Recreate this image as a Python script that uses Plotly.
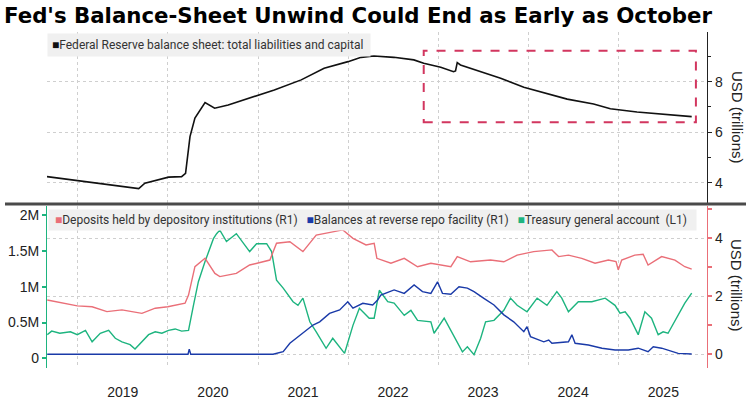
import plotly.graph_objects as go

# ---------------- data ----------------
fed_dates = ["2018-08-29", "2019-03-01", "2019-09-05", "2019-09-30", "2020-01-04", "2020-02-26",
             "2020-03-13", "2020-03-31", "2020-04-20", "2020-05-31", "2020-07-09", "2020-09-02",
             "2020-12-18", "2021-03-08", "2021-06-25", "2021-09-26", "2022-01-01", "2022-02-23",
             "2022-04-16", "2022-07-06", "2022-09-25", "2022-11-04", "2023-01-12", "2023-03-05",
             "2023-03-13", "2023-03-20", "2023-04-02", "2023-06-09", "2023-09-12", "2023-12-15",
             "2024-02-20", "2024-06-08", "2024-09-23", "2024-11-30", "2025-03-18", "2025-06-20",
             "2025-09-09", "2025-10-26"]
fed_values = [4.25, 4.03, 3.78, 3.99, 4.23, 4.25, 4.38, 5.83, 6.56, 7.17, 6.95, 7.08,
              7.41, 7.67, 8.07, 8.53, 8.79, 8.96, 9.01, 8.96, 8.86, 8.73, 8.57, 8.39,
              8.42, 8.75, 8.66, 8.43, 8.13, 7.78, 7.61, 7.31, 7.12, 6.93, 6.80, 6.72,
              6.65, 6.62]

dep_dates = ["2018-08-30", "2018-10-20", "2018-12-30", "2019-02-28", "2019-04-29", "2019-06-29",
             "2019-09-18", "2019-11-11", "2020-01-01", "2020-03-11", "2020-03-25", "2020-04-20",
             "2020-05-31", "2020-07-10", "2020-07-30", "2020-10-05", "2020-11-28", "2021-02-18",
             "2021-03-17", "2021-05-10", "2021-07-02", "2021-08-25", "2021-10-31", "2021-12-11",
             "2022-01-21", "2022-03-15", "2022-04-17", "2022-04-28", "2022-06-24", "2022-08-17",
             "2022-10-10", "2022-12-03", "2023-02-22", "2023-03-20", "2023-05-13", "2023-08-02",
             "2023-09-25", "2023-11-18", "2024-01-24", "2024-04-07", "2024-05-04", "2024-06-13",
             "2024-08-06", "2024-09-29", "2024-11-22", "2024-12-23", "2025-01-01", "2025-01-15",
             "2025-03-09", "2025-04-12", "2025-05-02", "2025-06-26", "2025-08-19", "2025-09-28",
             "2025-10-26"]
dep_values = [1.87, 1.79, 1.67, 1.64, 1.47, 1.53, 1.41, 1.59, 1.64, 1.76, 2.04, 3.02,
              3.31, 2.79, 2.68, 2.79, 3.08, 3.25, 3.83, 3.88, 3.54, 4.11, 4.23, 4.29,
              4.00, 3.77, 3.83, 3.31, 3.14, 3.31, 3.02, 3.14, 3.02, 3.37, 3.19, 3.25,
              3.19, 3.42, 3.54, 3.60, 3.37, 3.42, 3.31, 3.14, 3.25, 3.20, 2.91, 3.25,
              3.42, 3.45, 3.08, 3.37, 3.25, 3.02, 2.94]

rrp_dates = ["2018-08-30", "2020-03-23", "2020-03-28", "2020-04-03", "2021-03-03", "2021-04-13",
             "2021-05-10", "2021-06-05", "2021-07-02", "2021-08-12", "2021-09-08", "2021-10-18",
             "2021-11-28", "2021-12-31", "2022-01-21", "2022-03-02", "2022-04-11", "2022-05-01",
             "2022-05-14", "2022-07-07", "2022-08-17", "2022-09-26", "2022-10-30", "2022-12-03",
             "2022-12-30", "2023-01-19", "2023-02-22", "2023-03-27", "2023-04-30", "2023-05-27",
             "2023-07-06", "2023-08-16", "2023-09-25", "2023-11-04", "2023-12-15", "2023-12-28",
             "2024-01-11", "2024-03-05", "2024-03-25", "2024-04-07", "2024-06-13", "2024-06-27",
             "2024-07-10", "2024-09-02", "2024-10-27", "2024-12-19", "2025-02-11", "2025-03-23",
             "2025-05-02", "2025-05-23", "2025-06-26", "2025-08-06", "2025-09-01", "2025-10-26"]
rrp_values = [0.0, 0.0, 0.18, 0.0, 0.0, 0.09, 0.38, 0.55, 0.72, 1.01, 1.12, 1.41,
              1.53, 1.81, 1.59, 1.76, 1.70, 1.87, 2.04, 2.22, 2.10, 2.39, 2.16, 2.10,
              2.50, 2.10, 2.07, 2.33, 2.28, 2.16, 1.93, 1.70, 1.36, 1.12, 0.78, 0.95,
              0.61, 0.43, 0.49, 0.38, 0.43, 0.67, 0.38, 0.32, 0.21, 0.15, 0.15, 0.21,
              0.09, 0.26, 0.21, 0.11, 0.03, 0.01]

tga_dates = ["2018-08-30", "2018-09-17", "2018-10-20", "2018-12-02", "2018-12-30", "2019-02-01",
             "2019-02-28", "2019-04-02", "2019-05-06", "2019-06-02", "2019-06-29", "2019-08-01",
             "2019-08-21", "2019-09-18", "2019-10-15", "2019-11-11", "2019-12-08", "2020-01-04",
             "2020-01-31", "2020-02-26", "2020-03-25", "2020-04-14", "2020-05-04", "2020-05-31",
             "2020-07-04", "2020-07-17", "2020-07-30", "2020-08-26", "2020-10-05", "2020-11-28",
             "2020-12-26", "2021-02-05", "2021-02-25", "2021-03-17", "2021-04-13", "2021-05-23",
             "2021-06-12", "2021-07-02", "2021-07-30", "2021-08-25", "2021-10-04", "2021-10-31",
             "2021-12-18", "2022-01-21", "2022-02-16", "2022-03-28", "2022-04-17", "2022-05-08",
             "2022-06-11", "2022-07-07", "2022-08-17", "2022-09-13", "2022-10-10", "2022-12-03",
             "2022-12-16", "2023-01-26", "2023-03-07", "2023-04-10", "2023-04-30", "2023-05-27",
             "2023-06-23", "2023-07-13", "2023-08-16", "2023-09-25", "2023-10-22", "2023-11-18",
             "2023-12-28", "2024-02-07", "2024-03-18", "2024-04-27", "2024-05-17", "2024-06-13",
             "2024-07-23", "2024-09-16", "2024-11-09", "2024-12-19", "2025-01-08", "2025-01-29",
             "2025-02-18", "2025-03-23", "2025-04-19", "2025-05-16", "2025-06-12", "2025-07-02",
             "2025-07-22", "2025-09-01", "2025-09-28", "2025-10-26"]
# USD millions
tga_values = [330000, 380000, 350000, 370000, 330000, 390000, 230000, 350000, 390000, 280000,
              230000, 190000, 130000, 230000, 330000, 370000, 350000, 390000, 410000, 380000,
              390000, 740000, 1070000, 1350000, 1670000, 1740000, 1790000, 1630000, 1740000,
              1490000, 1600000, 1600000, 1490000, 1090000, 980000, 790000, 740000, 840000,
              510000, 370000, 140000, 280000, 70000, 460000, 700000, 560000, 560000, 950000,
              790000, 770000, 600000, 670000, 530000, 510000, 350000, 560000, 300000, 90000,
              160000, 50000, 280000, 510000, 530000, 670000, 840000, 740000, 650000, 840000,
              740000, 930000, 840000, 650000, 790000, 790000, 840000, 740000, 630000, 650000,
              560000, 330000, 650000, 560000, 330000, 370000, 350000, 600000, 770000, 910000]

left_tick_vals = [0, 500000, 1000000, 1500000, 2000000]
left_tick_text = ["0", "0.5M", "1M", "1.5M", "2M"]
right_tick_vals = [0, 2, 4]
top_tick_vals = [4, 6, 8]

title_text = "Fed's Balance-Sheet Unwind Could End as Early as October"
top_legend = "Federal Reserve balance sheet: total liabilities and capital"
dep_name = "Deposits held by depository institutions (R1)"
rrp_name = "Balances at reverse repo facility (R1)"
tga_name = "Treasury general account&nbsp;&nbsp;(L1)"

# ---------------- styling ----------------
W, H = 746, 399
C_FED = "#111111"
C_DEP = "#ea6f78"
C_RRP = "#1a3aa8"
C_TGA = "#1db47f"
C_BOX = "#d2365f"
GRID = "#cfcfcf"
AX_FONT = "Liberation Sans, Arial, sans-serif"
TITLE_FONT = "DejaVu Sans, Arial, sans-serif"
LEG_FONT = "Roboto, Arial, sans-serif"


def px_x(p):
    return p / W


def px_y(p):
    return 1 - p / H


x_dom = [px_x(47), px_x(707)]
top_dom = [px_y(203), px_y(32)]
bot_dom = [px_y(368), px_y(206)]
x_range = ["2018-08-29", "2025-12-27"]

fig = go.Figure()
fig.add_trace(go.Scatter(x=fed_dates, y=fed_values, mode="lines", name=top_legend,
                         line=dict(color=C_FED, width=1.6), xaxis="x", yaxis="y",
                         showlegend=False))
fig.add_trace(go.Scatter(x=dep_dates, y=dep_values, mode="lines", name=dep_name,
                         line=dict(color=C_DEP, width=1.4), xaxis="x2", yaxis="y3",
                         showlegend=False))
fig.add_trace(go.Scatter(x=rrp_dates, y=rrp_values, mode="lines", name=rrp_name,
                         line=dict(color=C_RRP, width=1.4), xaxis="x2", yaxis="y3",
                         showlegend=False))
fig.add_trace(go.Scatter(x=tga_dates, y=tga_values, mode="lines", name=tga_name,
                         line=dict(color=C_TGA, width=1.4), xaxis="x2", yaxis="y2",
                         showlegend=False))

fig.update_layout(
    width=W, height=H,
    margin=dict(l=0, r=0, t=0, b=0),
    paper_bgcolor="white", plot_bgcolor="white",
    showlegend=False,
    title=dict(text="<b>" + title_text + "</b>", x=px_x(4), xanchor="left",
               y=px_y(16), yanchor="middle", yref="container",
               font=dict(family=TITLE_FONT, size=21.3, color="#000")),
    xaxis=dict(domain=x_dom, range=x_range, anchor="y", type="date",
               tick0="2019-01-01", dtick="M12", showticklabels=False, ticks="",
               showgrid=True, gridcolor=GRID, griddash="dot", gridwidth=1,
               zeroline=False, showline=False, automargin=False),
    yaxis=dict(domain=top_dom, range=[3.21, 9.96], side="right", anchor="x",
               tickvals=top_tick_vals, ticks="outside", ticklen=4, tickcolor="#222",
               minor=dict(dtick=1, tick0=0, ticks="outside", ticklen=3, tickcolor="#222",
                          showgrid=False),
               showline=True, linecolor="#222", linewidth=1.2,
               showgrid=True, gridcolor=GRID, griddash="dot", zeroline=False,
               tickfont=dict(family=AX_FONT, size=14, color="#222"), automargin=False),
    xaxis2=dict(domain=x_dom, range=x_range, anchor="y2", type="date",
                tick0="2019-01-01", dtick="M12", tickformat="%Y", ticklabelmode="period",
                ticks="", ticklabelstandoff=14,
                showgrid=True, gridcolor=GRID, griddash="dot", gridwidth=1,
                zeroline=False, showline=False,
                tickfont=dict(family=AX_FONT, size=14, color="#222"), automargin=False),
    yaxis2=dict(domain=bot_dom, range=[-135000, 2126000], side="left", anchor="x2",
                tickvals=left_tick_vals, ticktext=left_tick_text,
                ticks="outside", ticklen=4, tickcolor=C_TGA, tickwidth=1.5,
                showline=True, linecolor=C_TGA, linewidth=1.2,
                showgrid=False, zeroline=False,
                tickfont=dict(family=AX_FONT, size=14, color="#222"), automargin=False),
    yaxis3=dict(domain=bot_dom, range=[-0.473, 5.114], side="right", anchor="x2",
                overlaying="y2", tickvals=right_tick_vals,
                ticks="outside", ticklen=4, tickcolor=C_DEP, tickwidth=1.5,
                minor=dict(dtick=1, tick0=0, ticks="outside", ticklen=4, tickcolor=C_DEP,
                           showgrid=False),
                showline=True, linecolor=C_DEP, linewidth=1.2,
                showgrid=True, gridcolor=GRID, griddash="dot", zeroline=False,
                tickfont=dict(family=AX_FONT, size=14, color="#222"), automargin=False),
)

# dashed highlight box on the top panel
fig.add_shape(type="rect", xref="x", yref="y", x0="2022-11-04", x1="2025-11-12",
              y0=6.40, y1=9.22, line=dict(color=C_BOX, width=2, dash="dash"),
              fillcolor="rgba(0,0,0,0)")

# separator between panels
fig.add_shape(type="line", xref="paper", yref="paper", x0=px_x(5), x1=1,
              y0=px_y(204), y1=px_y(204), line=dict(color="#4a4a4a", width=3))

# legends (as boxed text)
fig.add_annotation(xref="paper", yref="paper", x=px_x(47), y=px_y(33),
                   xanchor="left", yanchor="top", showarrow=False, align="left",
                   text="<span style='color:%s'>■</span>%s&nbsp;" % (C_FED, top_legend),
                   font=dict(family=LEG_FONT, size=12, color="#333"),
                   bgcolor="#f0f0f0", borderpad=4)
fig.add_annotation(xref="paper", yref="paper", x=px_x(48), y=px_y(209),
                   xanchor="left", yanchor="top", showarrow=False, align="left",
                   text=("&nbsp;<span style='color:%s'>■</span>%s&nbsp;&nbsp;&nbsp;"
                         "<span style='color:%s'>■</span>%s&nbsp;&nbsp;&nbsp;"
                         "<span style='color:%s'>■</span>%s&nbsp;&nbsp;")
                   % (C_DEP, dep_name, C_RRP, rrp_name, C_TGA, tga_name),
                   font=dict(family=LEG_FONT, size=12, color="#333"),
                   bgcolor="#f0f0f0", borderpad=3)

# axis titles
for yy in (117, 285):
    fig.add_annotation(xref="paper", yref="paper", x=px_x(737), y=px_y(yy),
                       xanchor="center", yanchor="middle", showarrow=False,
                       text="USD (trillions)", textangle=90,
                       font=dict(family=AX_FONT, size=15, color="#222"))

fig.write_html("out.html", config={"displayModeBar": False},
               post_script="document.body.style.margin='0';document.body.style.padding='0';")
